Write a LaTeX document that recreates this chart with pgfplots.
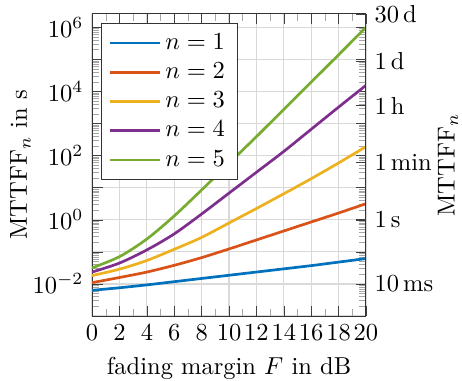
\documentclass[border=0pt]{standalone}
\usepackage{pgfplots}
\pgfplotsset{compat=1.18}
\definecolor{c1}{rgb}{0,0.447,0.741}
\definecolor{c2}{rgb}{0.85,0.325,0.098}
\definecolor{c3}{rgb}{0.929,0.694,0.125}
\definecolor{c4}{rgb}{0.494,0.184,0.556}
\definecolor{c5}{rgb}{0.466,0.674,0.188}
\pgfplotstableread{
F   n1       n2       n3       n4       n5
0   0.00631  0.01096  0.01820  0.02344  0.03162
2   0.00759  0.01585  0.02884  0.04467  0.07079
4   0.00933  0.02344  0.05370  0.1148   0.2512
6   0.01175  0.03802  0.1202   0.3631   1.318
8   0.01479  0.06607  0.2818   1.514    8.511
10  0.01862  0.1230   0.7943   6.761    57.54
12  0.02344  0.2344   2.239    30.20    389.0
14  0.02951  0.4467   6.457    134.9    2754
16  0.03715  0.8511   19.05    660.7    19498
18  0.04786  1.622    58.88    3236     138038
20  0.06166  3.162    190.5    15488    1000000
}\datatab
\begin{document}
\begin{tikzpicture}
\begin{axis}[
  scale only axis, width=111.8pt, height=123.3pt,
  at={(0,0)}, anchor=south west,
  xmin=0, xmax=20, ymode=log, ymin=1e-3, ymax=2.592e6,
  xtick={0,2,...,20}, minor x tick num=1,
  ytick={1e-3,1e-2,1e-1,1,1e1,1e2,1e3,1e4,1e5,1e6},
  yticklabels={,$10^{-2}$,,$10^{0}$,,$10^{2}$,,$10^{4}$,,$10^{6}$},
  yticklabel pos=left,
  grid=major,
  major grid style={gray!30, line width=0.5pt},
  major tick style={black!75},
  minor tick style={gray!70},
  axis line style={black!80},
  xlabel={fading margin $F$ in dB},
  ylabel={MTTFF$_n$ in s},
  ylabel shift=-6pt,
  legend cell align=left,
  legend style={at={(0.033,0.97)}, anchor=north west, draw=black!80, fill=white},
  legend image code/.code={\draw[#1] plot coordinates {(0cm,0cm) (0.7cm,0cm)};},
  every axis plot/.append style={line width=1.1pt, smooth},
]
\addplot[c1] table[x=F,y=n1] {\datatab}; \addlegendentry{$n=1$}
\addplot[c2] table[x=F,y=n2] {\datatab}; \addlegendentry{$n=2$}
\addplot[c3] table[x=F,y=n3] {\datatab}; \addlegendentry{$n=3$}
\addplot[c4] table[x=F,y=n4] {\datatab}; \addlegendentry{$n=4$}
\addplot[c5] table[x=F,y=n5] {\datatab}; \addlegendentry{$n=5$}
\end{axis}
\begin{axis}[
  scale only axis, width=111.8pt, height=123.3pt,
  at={(0,0)}, anchor=south west,
  xmin=0, xmax=20, ymode=log, ymin=1e-3, ymax=2.592e6,
  axis x line=none, axis y line*=right,
  ytick={0.01,1,60,3600,86400,2592000},
  yticklabels={10\,ms,1\,s,1\,min,1\,h,1\,d,30\,d},
  minor ytick={},
  major tick style={black!75},
  axis line style={black!80},
  ylabel={MTTFF$_n$},
  ylabel shift=-5pt,
]
\addplot[draw=none] coordinates {(0,1) (20,1)};
\end{axis}
\pgfresetboundingbox
\path[use as bounding box] (-37.6pt,-26.5pt) rectangle (151pt,129pt);
\end{tikzpicture}
\end{document}
